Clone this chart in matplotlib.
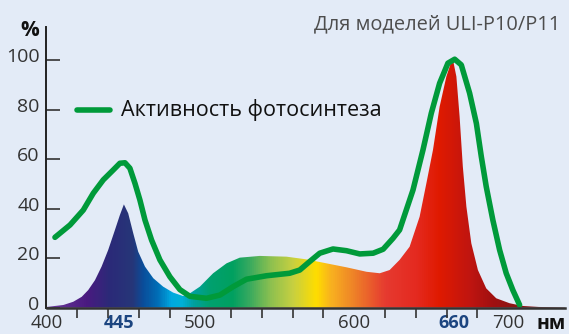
import numpy as np
import matplotlib
matplotlib.use("Agg")
import matplotlib.pyplot as plt
import matplotlib.transforms as mtransforms
from matplotlib.colors import LinearSegmentedColormap
from matplotlib.patches import Polygon

# LED emission spectrum
spectrumNm = [400, 411, 417.4, 422.9, 427.1, 431.5, 435.8, 440.1, 444.5, 447.7, 450.3, 453.1,
              456.4, 459.6, 464, 469.4, 475.8, 482.3, 488.8, 493.2, 499.7, 508.3, 517, 525.6,
              538.6, 556, 569, 582, 595, 608, 616.6, 623, 629.5, 636, 642.5, 646.9, 651.2,
              655.5, 659.9, 663.1, 664.2, 666.4, 668.5, 670.6, 672.9, 676.1, 680.4, 685.8,
              692.3, 701, 709.6, 720, 737]
spectrumVal = [0.3, 1.1, 2.4, 4.4, 7.1, 11.1, 16.6, 23.3, 31.4, 37.4, 41.7, 38.1,
               30, 22.6, 16.6, 11.9, 8.5, 6.1, 4.7, 5.8, 8.5, 13.9, 17.9, 20.2,
               20.9, 20.6, 19.5, 17.9, 16.3, 14.5, 13.9, 15.2, 19.3, 24.6, 36.7, 50.2, 63.7,
               81.1, 93.3, 99.3, 100, 93.3, 77.1, 56.9, 40.8, 26, 15.2, 7.8,
               3.8, 1.8, 0.7, 0.3, 0.1]

# photosynthesis activity curve
photoNm = [405.5, 415.3, 423.9, 430.4, 436.9, 443.4, 447.7, 451, 454.2, 457.5, 460.7, 464,
           468.3, 473.7, 480.2, 486.7, 493.2, 504, 512.7, 521.3, 530, 543, 558, 564.6,
           571, 577.6, 586.2, 595, 603.6, 612.3, 618.8, 625.2, 629.5, 638.2, 644.7, 650.1,
           655.5, 660.9, 665.3, 669.6, 675, 679.4, 682.6, 685.8, 690.1, 694.5, 698.8,
           703.1, 707.5]
photoVal = [28.4, 33.4, 39.4, 46.2, 51.6, 55.6, 58.3, 58.5, 56.3, 50.2, 43.5, 35.4,
            27.3, 19.3, 12.5, 7.3, 4.6, 3.8, 5.1, 8.5, 11.5, 12.9, 13.9, 15.2,
            18.6, 22, 23.7, 23, 21.7, 22, 23.6, 28, 31.4, 47.5, 63.7, 78.5,
            90.6, 98.7, 100.3, 98, 86.6, 74.4, 61, 48.9, 35.4, 23.3, 13.9,
            7.1, 1.1]

# colour of the spectrum fill along wavelength
gradNm = [400, 425, 440, 455, 462, 472, 480, 487, 495, 505, 520, 530, 545, 560, 575,
          585, 600, 620, 640, 655, 675, 690, 705, 737]
gradColors = ["#6a3a9a", "#4a1a80", "#2b2a78", "#263679", "#0a4d9a", "#0070b8", "#00a8e0",
              "#00b0d8", "#00a0a0", "#00a070", "#00a060", "#30a860", "#8cc050", "#c8d040",
              "#ffdd00", "#f8b020", "#ee8028", "#e63a30", "#e42a20", "#e01a00", "#c01510",
              "#a01010", "#8b1515", "#801818"]

xTicks = list(range(400, 701, 20))
xLabelPos = [400, 447, 500, 600, 665, 700]
xLabels = ["400", "445", "500", "600", "660", "700"]
yTicks = [0, 20, 40, 60, 80, 100]

bg = "#e3ebf7"
green = "#009a3a"
xMin, xMax = 400, 737
yMax = 113.3

fig = plt.figure(figsize=(5.69, 3.34), dpi=100)
fig.patch.set_facecolor(bg)
ax = fig.add_axes([46.5 / 569, 26.3 / 334, (565 - 46.5) / 569, (307.7 - 27) / 334])
ax.set_facecolor(bg)
ax.set_xlim(xMin, xMax)
ax.set_ylim(0, yMax)

### spectrum filled with a wavelength gradient
stops = [((n - xMin) / (xMax - xMin), c) for n, c in zip(gradNm, gradColors)]
cmap = LinearSegmentedColormap.from_list("spec", stops)
grad = np.linspace(0, 1, 800).reshape(1, -1)
im = ax.imshow(grad, cmap=cmap, extent=[xMin, xMax, 0, yMax], aspect="auto",
               origin="lower", zorder=1)
verts = [(spectrumNm[0], 0)] + list(zip(spectrumNm, spectrumVal)) + [(spectrumNm[-1], 0)]
poly = Polygon(verts, closed=True, facecolor="none", edgecolor="none", transform=ax.transData)
ax.add_patch(poly)
im.set_clip_path(poly)

ax.plot(photoNm, photoVal, color=green, lw=4, solid_capstyle="round",
        solid_joinstyle="round", zorder=3)

### axes and ticks
for s in ["top", "right"]:
    ax.spines[s].set_visible(False)
ax.spines["left"].set_color("#222222")
ax.spines["left"].set_linewidth(1.4)
ax.spines["bottom"].set_color("#333333")
ax.spines["bottom"].set_linewidth(1.8)
ax.spines["bottom"].set_zorder(4)

ax.set_yticks(yTicks)
ax.set_yticklabels([str(v) for v in yTicks], fontsize=14, color="#333333",
                   family="Open Sans")
ax.tick_params(axis="y", direction="in", length=10, width=1.2, color="#333333", pad=5)
# labels sit a little above their ticks in the original
shiftUp = mtransforms.ScaledTranslation(0, 5 / 100, fig.dpi_scale_trans)
for lbl in ax.get_yticklabels():
    lbl.set_transform(lbl.get_transform() + shiftUp)

ax.set_xticks(xTicks, minor=True)
ax.set_xticks(xLabelPos)
ax.set_xticklabels(xLabels, fontsize=13.5, color="#333333", family="Open Sans")
ax.tick_params(axis="x", which="minor", direction="out", length=7, width=1.2, color="#333333")
ax.tick_params(axis="x", which="major", length=0, pad=4.5)
for lbl in ax.get_xticklabels():
    if lbl.get_text() in ("445", "660"):
        lbl.set_color("#1c4580")
        lbl.set_fontweight("bold")
        lbl.set_fontsize(13)

fig.text(537 / 569, 1 - 324 / 334, "нм", fontsize=14, fontweight="bold", color="#111111",
         family="Open Sans", va="center", ha="left")
fig.text(30 / 569, 1 - 31 / 334, "%", fontsize=15, fontweight="bold", color="#111111",
         family="Open Sans", va="center", ha="center")
fig.text(560 / 569, 1 - 24 / 334, "Для моделей ULI-P10/P11", fontsize=14.4, color="#4d4d4d",
         family="Open Sans", va="center", ha="right")

### legend
ax.plot([420, 441], [80, 80], color=green, lw=4, solid_capstyle="round")
ax.text(448.4, 80, "Активность фотосинтеза", fontsize=15.5, color="#111111",
        family="Open Sans", va="center", ha="left")

fig.savefig("out.png", dpi=100, facecolor=bg)
